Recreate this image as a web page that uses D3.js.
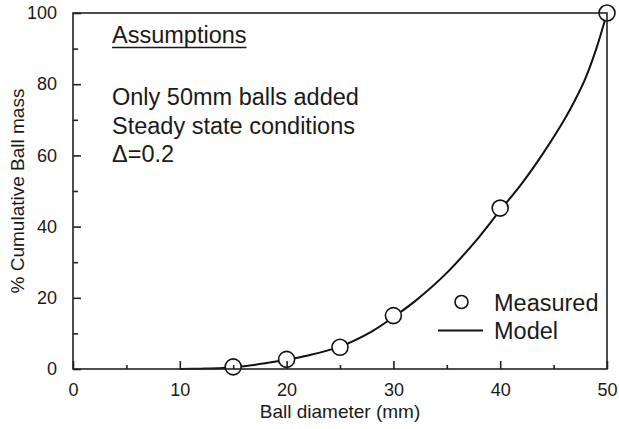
<!DOCTYPE html>
<html>
<head>
<meta charset="utf-8">
<script src="https://cdn.jsdelivr.net/npm/d3@7"></script>
<style>
  body { margin: 0; background: #fff; }
  text { font-family: "Liberation Sans", Arial, sans-serif; fill: #1a1a1a; }
</style>
</head>
<body>
<svg id="chart" width="619" height="429"></svg>
<script>
// measured ball mass (%)
const measuredSize = [15, 20, 25, 30, 40, 50];
const measuredMass = [0.6, 2.7, 6.1, 15, 45.2, 100];

// model curve
const modelSize = [10, 12, 14, 16, 18, 20, 22, 25, 28, 30, 32, 35, 38, 40, 42, 44, 46, 47, 48, 49, 50];
const modelMass = [0, 0.1, 0.3, 0.8, 1.6, 2.6, 3.8, 6.3, 10.6, 14.6, 19, 27, 37, 44.6, 52, 60.5, 70, 75.5, 81.8, 90, 100];

const xTicks = [0, 10, 20, 30, 40, 50];
const yTicks = [0, 20, 40, 60, 80, 100];
const notes = ["Only 50mm balls added", "Steady state conditions", "\u0394=0.2"];

const svg = d3.select("#chart");
const margin = { top: 13, right: 12, bottom: 60, left: 73 };
const width = 619 - margin.left - margin.right;
const height = 429 - margin.top - margin.bottom;

const x = d3.scaleLinear().domain([0, 50]).range([0, width]);
const y = d3.scaleLinear().domain([0, 100]).range([height, 0]);

const g = svg.append("g").attr("transform", `translate(${margin.left},${margin.top})`);

// model line
const line = d3.line()
  .x((d, i) => x(modelSize[i]))
  .y((d) => y(d))
  .curve(d3.curveCatmullRom.alpha(0.5));

g.append("path")
  .datum(modelMass)
  .attr("d", line)
  .attr("fill", "none")
  .attr("stroke", "#111")
  .attr("stroke-width", 2);

// measured points
g.selectAll("circle.pt")
  .data(measuredMass)
  .join("circle")
  .attr("class", "pt")
  .attr("cx", (d, i) => x(measuredSize[i]))
  .attr("cy", (d) => y(d))
  .attr("r", 8)
  .attr("fill", "#fff")
  .attr("stroke", "#111")
  .attr("stroke-width", 1.6);

// frame
g.append("rect")
  .attr("width", width)
  .attr("height", height)
  .attr("fill", "none")
  .attr("stroke", "#222")
  .attr("stroke-width", 1.6);

// axes with inward ticks
const xAxis = g.append("g")
  .attr("transform", `translate(0,${height})`)
  .call(d3.axisBottom(x).tickValues(xTicks).tickSize(-8).tickPadding(14).tickFormat(d3.format("d")));
const yAxis = g.append("g")
  .call(d3.axisLeft(y).tickValues(yTicks).tickSize(-8).tickPadding(16).tickFormat(d3.format("d")));

// minor ticks
g.append("g")
  .attr("transform", `translate(0,${height})`)
  .call(d3.axisBottom(x).tickValues(d3.range(5, 50, 10)).tickSize(-4).tickFormat(""));
g.append("g")
  .call(d3.axisLeft(y).tickValues(d3.range(10, 100, 20)).tickSize(-5).tickFormat(""));

g.selectAll(".domain").remove();
g.selectAll(".tick line").attr("stroke", "#222").attr("stroke-width", 1.6);
xAxis.selectAll("text").attr("font-size", 18).attr("fill", "#1a1a1a");
yAxis.selectAll("text").attr("font-size", 18).attr("fill", "#1a1a1a");

// axis titles
svg.append("text")
  .attr("x", margin.left + width / 2)
  .attr("y", 418)
  .attr("text-anchor", "middle")
  .attr("font-size", 19)
  .text("Ball diameter (mm)");

svg.append("text")
  .attr("transform", `translate(24,${margin.top + height / 2}) rotate(-90)`)
  .attr("text-anchor", "middle")
  .attr("font-size", 19)
  .text("% Cumulative Ball mass");

// assumptions block
const title = svg.append("text")
  .attr("x", 112)
  .attr("y", 43)
  .attr("font-size", 23.5)
  .text("Assumptions");
const tw = title.node().getComputedTextLength();
svg.append("line")
  .attr("x1", 112).attr("x2", 112 + tw)
  .attr("y1", 47.5).attr("y2", 47.5)
  .attr("stroke", "#1a1a1a")
  .attr("stroke-width", 1.5);

svg.selectAll("text.note")
  .data(notes)
  .join("text")
  .attr("class", "note")
  .attr("x", 112)
  .attr("y", (d, i) => 105 + i * 28.5)
  .attr("font-size", 23.5)
  .text((d) => d);

// legend
const lg = svg.append("g");
lg.append("circle")
  .attr("cx", 461.5).attr("cy", 302)
  .attr("r", 6.5)
  .attr("fill", "#fff")
  .attr("stroke", "#111")
  .attr("stroke-width", 1.6);
lg.append("text")
  .attr("x", 494).attr("y", 310.5)
  .attr("font-size", 23.5)
  .text("Measured");
lg.append("line")
  .attr("x1", 438).attr("x2", 483)
  .attr("y1", 330.5).attr("y2", 330.5)
  .attr("stroke", "#111")
  .attr("stroke-width", 2);
lg.append("text")
  .attr("x", 494).attr("y", 338.5)
  .attr("font-size", 23.5)
  .text("Model");
</script>
</body>
</html>
